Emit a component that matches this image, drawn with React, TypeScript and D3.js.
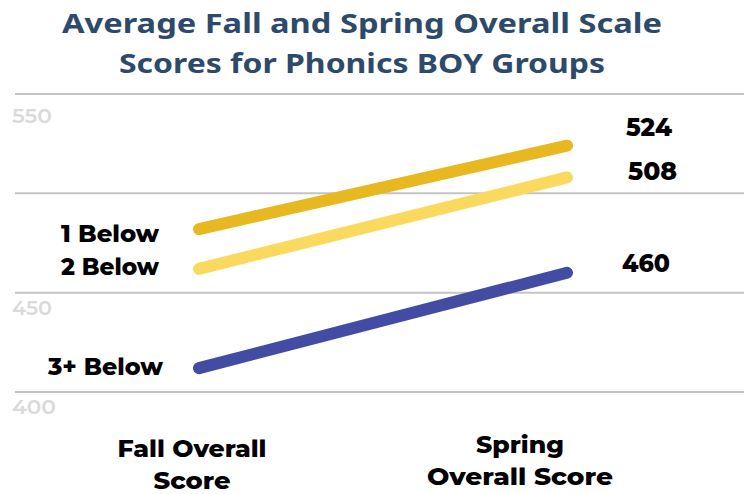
import React from "react";
import * as d3 from "d3";

const periods = ["Fall", "Spring"];
const periodLabels = [["Fall Overall", "Score"], ["Spring", "Overall Score"]];
const groups = ["1 Below", "2 Below", "3+ Below"];
const fallValues = [482, 462, 412];
const springValues = [524, 508, 460];
const groupColors = ["#E8B820", "#F9D95E", "#434CA3"];
const gridTicks = [400, 450, 500, 550];
const tickLabels = ["400", "450", "", "550"];
const titleLines = ["Average Fall and Spring Overall Scale", "Scores for Phonics BOY Groups"];

const W = 744;
const H = 494;

export default function App() {
  const y = d3.scaleLinear().domain([400, 550]).range([392, 94]);
  const x = d3.scalePoint<string>().domain(periods).range([199, 567]);
  const line = d3
    .line<{ p: string; v: number }>()
    .x((d) => x(d.p) as number)
    .y((d) => y(d.v));

  const font = "Montserrat, 'Open Sans', sans-serif";

  return (
    <svg
      width={W}
      height={H}
      style={{ position: "absolute", left: 0, top: 0, background: "#fff" }}
    >
      {/* title */}
      {titleLines.map((t, i) => (
        <text
          key={t}
          x={362}
          y={33 + i * 40}
          textAnchor="middle"
          fill="#2E4A6B"
          fontFamily="'Noto Sans', sans-serif"
          fontWeight={700}
          fontSize={27}
          textLength={i === 0 ? 600 : 486}
          lengthAdjust="spacingAndGlyphs"
        >
          {t}
        </text>
      ))}

      {/* grid */}
      {gridTicks.map((t, i) => (
        <g key={t}>
          <line x1={15} x2={W} y1={y(t)} y2={y(t)} stroke="#C4C4C4" strokeWidth={2} />
          {tickLabels[i] && (
            <text
              x={12}
              y={y(t) + (t === 550 ? 29 : 22)}
              fill="#DADADA"
              fontFamily={font}
              fontSize={21}
              fontWeight={600}
              textLength={t === 400 ? 44 : 40}
              lengthAdjust="spacingAndGlyphs"
            >
              {tickLabels[i]}
            </text>
          )}
        </g>
      ))}

      {/* lines */}
      {groups.map((g, i) => (
        <path
          key={g}
          d={
            line([
              { p: periods[0], v: fallValues[i] },
              { p: periods[1], v: springValues[i] },
            ]) as string
          }
          stroke={groupColors[i]}
          strokeWidth={12}
          strokeLinecap="round"
          fill="none"
        />
      ))}

      {/* group labels */}
      {groups.map((g, i) => (
        <text
          key={g}
          x={i === 2 ? 163 : 159}
          y={y(fallValues[i]) + [13, 6, 7][i]}
          textAnchor="end"
          fontFamily={font}
          fontWeight={800}
          fontSize={24}
          fill="#000"
          textLength={i === 2 ? 115 : 98}
          lengthAdjust="spacingAndGlyphs"
        >
          {g}
        </text>
      ))}

      {/* value labels */}
      {groups.map((g, i) => (
        <text
          key={g}
          x={[626, 628, 622][i]}
          y={y(springValues[i]) - [10, -3, 1][i]}
          fontFamily={font}
          fontWeight={800}
          fontSize={25}
          fill="#000"
          textLength={[46, 49, 48][i]}
          lengthAdjust="spacingAndGlyphs"
        >
          {springValues[i]}
        </text>
      ))}

      {/* axis labels */}
      {periods.map((p, i) =>
        periodLabels[i].map((l, j) => (
          <text
            key={p + j}
            x={i === 0 ? 192 : 520}
            y={(i === 0 ? 457 : 453) + j * 32}
            textAnchor="middle"
            fontFamily={font}
            fontWeight={800}
            fontSize={24}
            fill="#000"
            textLength={i === 0 ? (j === 0 ? 149 : 77) : j === 0 ? 88 : 186}
            lengthAdjust="spacingAndGlyphs"
          >
            {l}
          </text>
        ))
      )}
    </svg>
  );
}
